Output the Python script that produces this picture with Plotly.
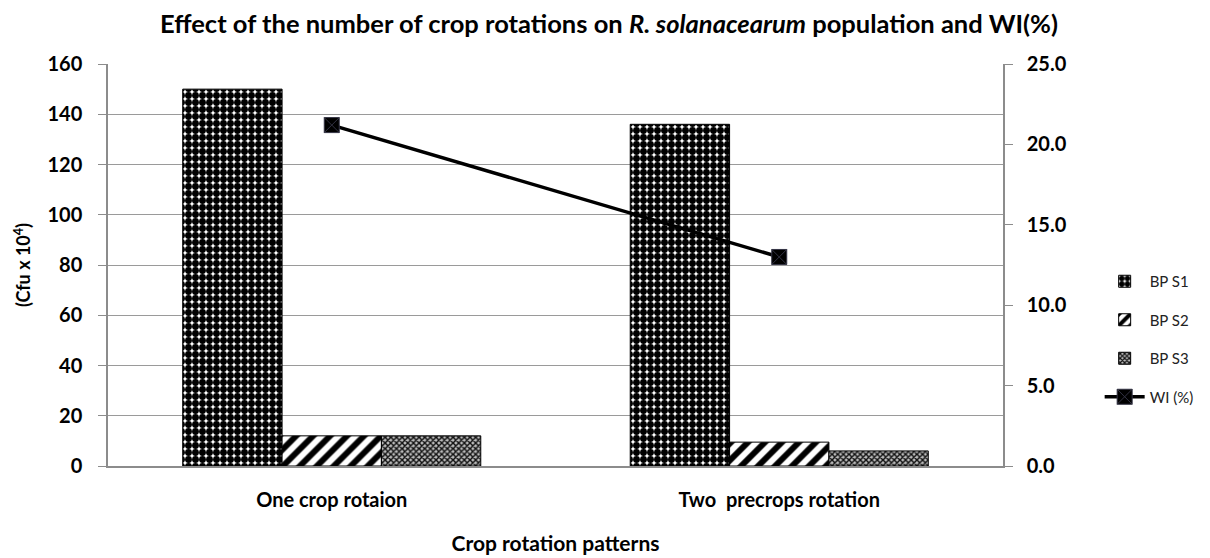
import plotly.graph_objects as go

categories = ["One crop rotaion", "Two  precrops rotation"]
bp_s1 = [150, 136]
bp_s2 = [12, 9.5]
bp_s3 = [12, 6]
wi_pct = [21.2, 13.0]

FONT = "Lato"

fig = go.Figure()
fig.add_trace(go.Bar(
    x=categories, y=bp_s1, name="BP S1", legendgroup="a",
    marker=dict(color="white", line=dict(color="black", width=1),
                pattern=dict(shape=".", fgcolor="black", bgcolor="white", size=7, solidity=0.75, fgopacity=1)),
))
fig.add_trace(go.Bar(
    x=categories, y=bp_s2, name="BP S2", legendgroup="b",
    marker=dict(color="white", line=dict(color="black", width=1),
                pattern=dict(shape="/", fgcolor="black", bgcolor="white", size=12, solidity=0.5, fgopacity=1)),
))
fig.add_trace(go.Bar(
    x=categories, y=bp_s3, name="BP S3", legendgroup="c",
    marker=dict(color="white", line=dict(color="black", width=1),
                pattern=dict(shape="x", fgcolor="#111", bgcolor="#bbbbbb", size=4, solidity=0.6, fgopacity=1)),
))
fig.add_trace(go.Scatter(
    x=categories, y=wi_pct, name="WI (%)", yaxis="y2", legendgroup="d",
    mode="lines+markers",
    line=dict(color="black", width=3.5),
    marker=dict(symbol="square-x", size=15, color="black", line=dict(color="#334", width=1)),
))

fig.update_layout(
    width=1202, height=550,
    margin=dict(l=100, r=207, t=56, b=92, autoexpand=False),
    paper_bgcolor="white", plot_bgcolor="white",
    barmode="group", bargap=0.334, bargroupgap=0,
    font=dict(family=FONT, color="black"),
    title=dict(
        text="Effect of the number of crop rotations on <i>R. solanacearum</i> population and WI(%)",
        x=0.5, xanchor="center", y=0.97, yanchor="middle", automargin=False,
        font=dict(family=FONT, size=25.5, color="black", weight="bold"),
    ),
    xaxis=dict(
        automargin=False,
        showline=True, linecolor="#8c8c8c", linewidth=1.5,
        ticks="", ticklabelstandoff=15,
        tickfont=dict(family=FONT, size=20, color="black", weight="bold"),
        title=dict(text="Crop rotation patterns", standoff=27,
                   font=dict(family=FONT, size=21, color="black", weight="bold")),
    ),
    yaxis=dict(
        automargin=False,
        range=[0, 160], dtick=20,
        showgrid=True, gridcolor="#9a9a9a", gridwidth=1,
        showline=True, linecolor="#8c8c8c", linewidth=1.5,
        ticks="outside", ticklen=8, tickcolor="#8c8c8c",
        ticklabelstandoff=12,
        tickfont=dict(family=FONT, size=20, color="black", weight="bold"),
        zeroline=False,
        title=dict(text="(Cfu x 10<sup>4</sup>)", standoff=12,
                   font=dict(family=FONT, size=18, color="black", weight="bold")),
    ),
    yaxis2=dict(
        automargin=False,
        range=[0, 25], dtick=5, tickformat=".1f",
        overlaying="y", side="right", showgrid=False,
        showline=True, linecolor="#8c8c8c", linewidth=1.5,
        ticks="outside", ticklen=8, tickcolor="#8c8c8c",
        ticklabelstandoff=10,
        tickfont=dict(family=FONT, size=20, color="black", weight="bold"),
        zeroline=False,
    ),
    legend=dict(
        x=1.108, xanchor="left", y=0.5, yanchor="top",
        tracegroupgap=16, traceorder="grouped",
        font=dict(family=FONT, size=15, color="#222"),
        itemwidth=40,
    ),
)

fig.write_html("out.html")
